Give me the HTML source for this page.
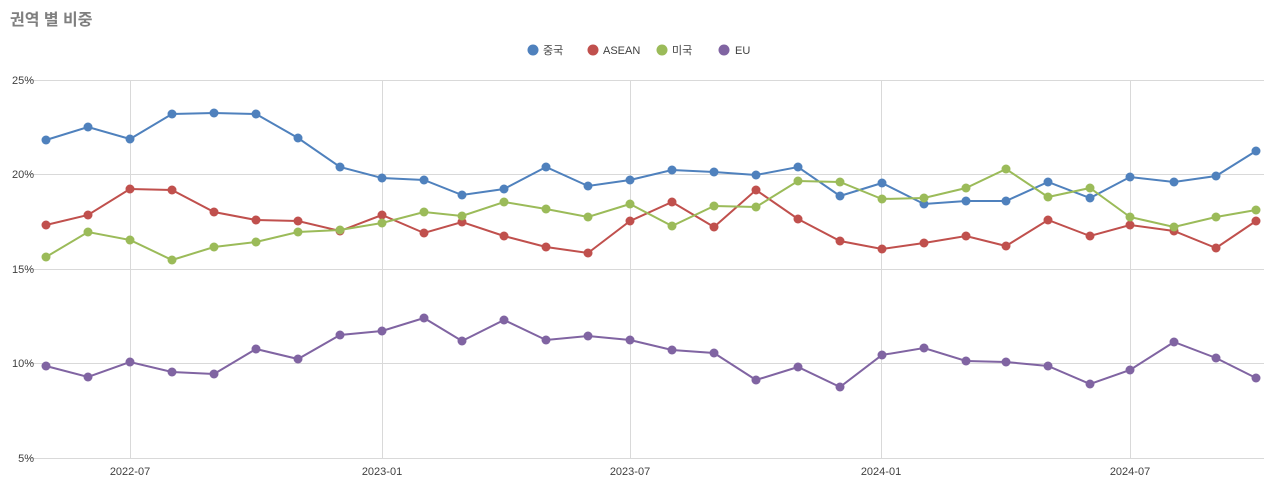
<!DOCTYPE html>
<html><head><meta charset="utf-8"><style>
html,body{margin:0;padding:0;background:#fff;width:1274px;height:481px;overflow:hidden}
svg{display:block;font-family:"Liberation Sans","Noto Sans CJK KR",sans-serif}
</style></head><body>
<svg id="s" width="1274" height="481" xmlns="http://www.w3.org/2000/svg">
<text x="10" y="25" font-size="16" font-weight="bold" fill="#7f7f7f">권역 별 비중</text>
<g font-size="11" fill="#404040">
<circle cx="533" cy="50" r="5.5" fill="#4f81bd"/><text x="543" y="54">중국</text>
<circle cx="593" cy="50" r="5.5" fill="#c0504d"/><text x="603" y="54">ASEAN</text>
<circle cx="662" cy="50" r="5.5" fill="#9bbb59"/><text x="672" y="54">미국</text>
<circle cx="724" cy="50" r="5.5" fill="#8064a2"/><text x="735" y="54">EU</text>
</g>
<g stroke="#d9d9d9" stroke-width="1">
<line x1="26" y1="80.5" x2="1264" y2="80.5"/><line x1="26" y1="174.5" x2="1264" y2="174.5"/>
<line x1="26" y1="269.5" x2="1264" y2="269.5"/><line x1="26" y1="363.5" x2="1264" y2="363.5"/>
<line x1="26" y1="458.5" x2="1264" y2="458.5"/>
<line x1="130.5" y1="80" x2="130.5" y2="458"/><line x1="382.5" y1="80" x2="382.5" y2="458"/>
<line x1="630.5" y1="80" x2="630.5" y2="458"/><line x1="881.5" y1="80" x2="881.5" y2="458"/>
<line x1="1130.5" y1="80" x2="1130.5" y2="458"/>
</g>
<g font-size="11" fill="#404040" text-anchor="end">
<text x="34" y="84">25%</text><text x="34" y="178">20%</text><text x="34" y="273">15%</text>
<text x="34" y="367">10%</text><text x="34" y="462">5%</text>
</g>
<g font-size="11" fill="#404040" text-anchor="middle">
<text x="130" y="475">2022-07</text><text x="382" y="475">2023-01</text><text x="630" y="475">2023-07</text>
<text x="881" y="475">2024-01</text><text x="1130" y="475">2024-07</text>
</g>
<g id="d"></g>
</svg>
<script>
var xs=[46,88,130,172,214,256,298,340,382,424,462,504,546,588,630,672,714,756,798,840,882,924,966,1006,1048,1090,1130,1174,1216,1256];
var S=[
["#4f81bd",[140,127,139,114,113,114,138,167,178,180,195,189,167,186,180,170,172,175,167,196,183,204,201,201,182,198,177,182,176,151]],
["#c0504d",[225,215,189,190,212,220,221,231,215,233,222,236,247,253,221,202,227,190,219,241,249,243,236,246,220,236,225,231,248,221]],
["#9bbb59",[257,232,240,260,247,242,232,230,223,212,216,202,209,217,204,226,206,207,181,182,199,198,188,169,197,188,217,227,217,210]],
["#8064a2",[366,377,362,372,374,349,359,335,331,318,341,320,340,336,340,350,353,380,367,387,355,348,361,362,366,384,370,342,358,378]]];
var h="";
S.forEach(function(s){var p=s[1].map(function(y,i){return xs[i]+","+y}).join(" ");
h+='<polyline points="'+p+'" fill="none" stroke="'+s[0]+'" stroke-width="2"/>';
s[1].forEach(function(y,i){h+='<circle cx="'+xs[i]+'" cy="'+y+'" r="4.5" fill="'+s[0]+'"/>';});});
document.getElementById("d").innerHTML=h;
</script>
</body></html>
